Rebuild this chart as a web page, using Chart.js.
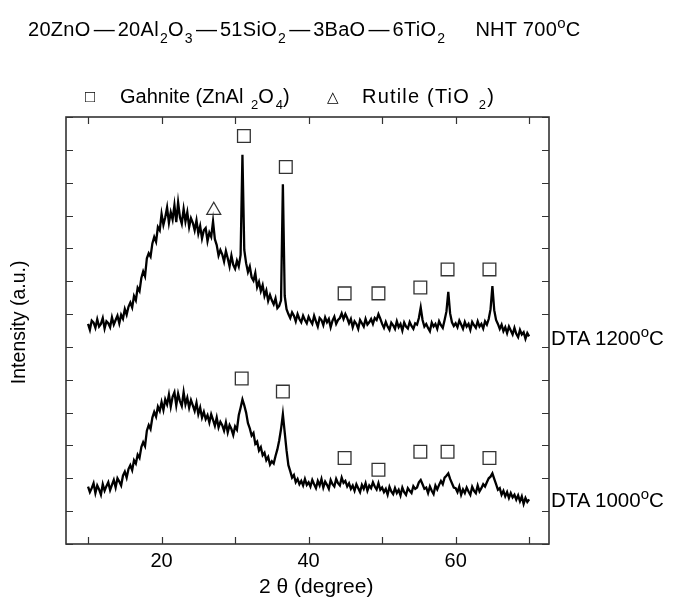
<!DOCTYPE html>
<html>
<head>
<meta charset="utf-8">
<script src="https://cdn.jsdelivr.net/npm/chart.js@4/dist/chart.umd.min.js"></script>
<style>
html,body{margin:0;padding:0;background:#fff;}
#wrap{position:relative;width:674px;height:603px;font-family:"Liberation Sans",Arial,sans-serif;color:#000;}
#c{position:absolute;left:0;top:0;}
.t{position:absolute;white-space:nowrap;line-height:1;}
.title{font-size:20px;letter-spacing:0.3px;}
.title sub{font-size:14px;vertical-align:-7px;line-height:0;margin-left:1px;}
.title sup{font-size:15px;vertical-align:8px;line-height:0;}
.d{font-size:21px;margin:0 3px 0 3px;line-height:0;letter-spacing:0;}
.leg{font-size:20px;}
.leg sub{font-size:13px;vertical-align:-6px;line-height:0;margin-left:2px;}
.lab{font-size:20.5px;}
.lab sup{font-size:15px;vertical-align:8px;line-height:0;}
</style>
</head>
<body>
<div id="wrap">
<canvas id="c" width="674" height="603"></canvas>
<div class="t title" style="left:28px;top:19px;">20ZnO<span class="d">—</span>20Al<sub>2</sub>O<sub>3</sub><span class="d">—</span>51SiO<sub>2</sub><span class="d">—</span>3BaO<span class="d">—</span>6TiO<sub>2</sub><span style="display:inline-block;width:30px"></span>NHT 700<sup>o</sup>C</div>
<div class="t" style="left:85px;top:88px;font-size:17px;">&#9633;</div>
<div class="t leg" style="left:120px;top:86px;">Gahnite (ZnAl <sub>2</sub>O<sub>4</sub>)</div>
<div class="t" style="left:327px;top:89px;font-size:15px;">&#9651;</div>
<div class="t leg" style="left:362px;top:86px;letter-spacing:1.2px;">Rutile (TiO <sub>2</sub>)</div>
<div class="t lab" style="left:551px;top:328px;">DTA 1200<sup>o</sup>C</div>
<div class="t lab" style="left:551px;top:490px;">DTA 1000<sup>o</sup>C</div>
</div>
<script>
// 2θ sampling (degrees)
const twoTheta = [
10,10.25,10.5,10.75,11,11.25,11.5,11.75,12,12.25,12.5,12.75,13,13.25,13.5,13.75,14,14.25,14.5,14.75,
15,15.25,15.5,15.75,16,16.25,16.5,16.75,17,17.25,17.5,17.75,18,18.25,18.5,18.75,19,19.25,19.5,19.75,
20,20.25,20.5,20.75,21,21.25,21.5,21.75,22,22.25,22.5,22.75,23,23.25,23.5,23.75,24,24.25,24.5,24.75,
25,25.25,25.5,25.75,26,26.25,26.5,26.75,27,27.25,27.5,27.75,28,28.25,28.5,28.75,29,29.25,29.5,29.75,
30,30.25,30.5,30.75,31,31.25,31.5,31.75,32,32.25,32.5,32.75,33,33.25,33.5,33.75,34,34.25,34.5,34.75,
35,35.25,35.5,35.75,36,36.25,36.5,36.75,37,37.25,37.5,37.75,38,38.25,38.5,38.75,39,39.25,39.5,39.75,
40,40.25,40.5,40.75,41,41.25,41.5,41.75,42,42.25,42.5,42.75,43,43.25,43.5,43.75,44,44.25,44.5,44.75,
45,45.25,45.5,45.75,46,46.25,46.5,46.75,47,47.25,47.5,47.75,48,48.25,48.5,48.75,49,49.25,49.5,49.75,
50,50.25,50.5,50.75,51,51.25,51.5,51.75,52,52.25,52.5,52.75,53,53.25,53.5,53.75,54,54.25,54.5,54.75,
55,55.25,55.5,55.75,56,56.25,56.5,56.75,57,57.25,57.5,57.75,58,58.25,58.5,58.75,59,59.25,59.5,59.75,
60,60.25,60.5,60.75,61,61.25,61.5,61.75,62,62.25,62.5,62.75,63,63.25,63.5,63.75,64,64.25,64.5,64.75,
65,65.25,65.5,65.75,66,66.25,66.5,66.75,67,67.25,67.5,67.75,68,68.25,68.5,68.75,69,69.25,69.5,69.75,
70];

// DTA 1200 °C trace (offset intensity, a.u.)
const dta1200 = [
6.70,6.52,6.80,6.74,6.58,6.84,6.62,6.70,6.88,6.56,6.78,6.72,6.60,6.90,6.68,6.82,6.95,6.72,6.98,6.86,
7.15,6.98,7.22,7.35,7.20,7.55,7.42,7.80,7.70,8.10,8.30,8.15,8.70,8.85,8.75,9.15,9.35,9.20,9.65,9.55,
10.05,9.72,9.95,10.25,9.78,10.10,9.88,10.32,9.80,10.40,9.95,9.75,10.20,9.82,10.10,9.65,9.92,9.78,9.55,9.85,
9.45,9.68,9.30,9.55,9.62,9.22,9.48,9.35,9.82,9.28,9.10,8.78,8.95,8.82,8.60,8.92,8.70,8.45,8.78,8.50,
8.38,8.62,8.45,8.80,11.85,8.95,8.55,8.28,8.45,8.12,8.02,8.25,7.82,7.98,7.70,7.88,7.55,7.72,7.40,7.58,
7.42,7.30,7.48,7.18,7.25,7.42,10.95,7.55,7.15,7.00,6.88,7.05,6.95,6.78,7.00,6.85,6.75,6.95,6.82,6.72,
6.92,6.80,6.70,6.95,6.78,6.62,6.88,6.82,6.66,6.90,6.75,6.85,6.60,6.80,6.92,6.70,6.82,6.88,7.02,6.85,
7.00,6.88,6.72,6.85,6.60,6.78,6.70,6.55,6.82,6.72,6.62,6.85,6.68,6.75,6.85,6.70,6.88,6.82,7.00,6.86,
6.70,6.58,6.76,6.62,6.52,6.74,6.66,6.55,6.78,6.60,6.70,6.50,6.74,6.62,6.56,6.76,6.64,6.55,6.72,6.68,
6.88,7.20,6.82,6.62,6.70,6.58,6.48,6.74,6.62,6.70,6.55,6.78,6.66,6.58,6.82,7.08,7.68,7.02,6.75,6.64,
6.72,6.60,6.80,6.68,6.55,6.76,6.62,6.70,6.52,6.76,6.66,6.58,6.78,6.62,6.70,6.56,6.78,6.68,6.85,7.15,
7.85,7.12,6.82,6.70,6.55,6.68,6.48,6.60,6.42,6.62,6.50,6.38,6.58,6.40,6.30,6.52,6.38,6.45,6.25,6.42,
6.32];

// DTA 1000 °C trace (offset intensity, a.u.)
const dta1000 = [
1.75,1.58,1.70,1.85,1.55,1.78,1.66,1.50,1.82,1.62,1.76,1.88,1.64,1.80,1.95,1.72,2.00,1.90,1.78,2.08,
2.20,2.02,2.28,2.40,2.25,2.55,2.45,2.72,2.62,2.95,3.10,2.98,3.45,3.62,3.50,3.85,4.02,3.88,4.18,4.05,
4.32,4.08,4.40,4.25,4.55,4.18,4.48,4.62,4.22,4.58,4.35,4.20,4.62,4.25,4.45,4.15,4.38,4.22,4.05,4.30,
3.95,4.15,3.85,4.02,3.80,3.92,3.70,3.95,3.78,3.60,3.85,3.55,3.72,3.62,3.45,3.70,3.40,3.62,3.50,3.32,
3.58,3.48,3.92,4.15,4.40,4.22,4.00,3.68,3.52,3.30,3.38,3.05,3.12,2.85,2.95,2.70,2.78,2.55,2.65,2.42,
2.52,2.45,2.68,2.88,3.15,3.50,3.95,3.40,2.85,2.40,2.22,2.02,2.10,1.88,1.98,1.82,1.92,1.78,1.98,1.80,
1.88,1.75,1.95,1.82,1.70,1.92,1.78,1.98,1.72,1.90,1.80,1.68,1.95,1.82,1.75,1.98,1.85,1.78,2.02,1.86,
1.92,1.75,1.85,1.68,1.78,1.62,1.82,1.70,1.58,1.80,1.68,1.85,1.62,1.78,1.70,1.88,1.75,1.66,1.85,1.65,
1.72,1.58,1.68,1.50,1.74,1.60,1.52,1.70,1.55,1.65,1.48,1.72,1.58,1.50,1.70,1.62,1.55,1.76,1.68,1.72,
1.88,1.95,1.82,1.68,1.72,1.55,1.75,1.62,1.52,1.78,1.66,1.80,1.92,1.82,2.02,2.08,2.15,1.98,1.85,1.72,
1.70,1.58,1.75,1.50,1.66,1.55,1.72,1.60,1.50,1.74,1.62,1.55,1.78,1.60,1.70,1.82,1.75,1.88,2.00,2.05,
2.15,1.98,1.82,1.65,1.70,1.50,1.62,1.45,1.58,1.40,1.55,1.42,1.50,1.35,1.48,1.30,1.45,1.22,1.40,1.28,
1.36];

// Phase markers
const gahniteX = [31.2,36.9,44.9,49.5,55.2,58.9,64.6, 30.9,36.5,44.9,49.5,55.2,58.9,64.6];
const gahniteY = [12.42,11.48,7.63,7.63,7.81,8.36,8.36, 5.04,4.64,2.62,2.26,2.81,2.81,2.62];
const rutileX = [27.1];
const rutileY = [10.16];

// Axis ticks
const xTicks = [10,20,30,40,50,60,70];
const xLabels = {20:'20',40:'40',60:'60'};
const yTicks = [0,1,2,3,4,5,6,7,8,9,10,11,12,13];

const toXY = (xs, ys) => xs.map((x, i) => ({x, y: ys[i]}));
const FONT = '"Liberation Sans", Arial, sans-serif';

const frameTicks = {
  id: 'frameTicks',
  afterDatasetsDraw(chart) {
    const {ctx, chartArea: {left, right, top, bottom}, scales: {x, y}} = chart;
    ctx.save();
    ctx.strokeStyle = '#333';
    ctx.lineWidth = 1.6;
    ctx.strokeRect(left, top, right - left, bottom - top);
    ctx.lineWidth = 1.2;
    const L = 7;
    ctx.beginPath();
    xTicks.forEach(v => {
      const p = Math.round(x.getPixelForValue(v)) + 0.5;
      ctx.moveTo(p, bottom); ctx.lineTo(p, bottom - L);
      ctx.moveTo(p, top); ctx.lineTo(p, top + L);
    });
    yTicks.forEach(v => {
      const p = Math.round(y.getPixelForValue(v)) + 0.5;
      ctx.moveTo(left, p); ctx.lineTo(left + L, p);
      ctx.moveTo(right, p); ctx.lineTo(right - L, p);
    });
    ctx.stroke();
    ctx.restore();
  }
};

new Chart(document.getElementById('c'), {
  type: 'line',
  data: {
    datasets: [
      {label: 'DTA 1200', data: toXY(twoTheta, dta1200), borderColor: '#000', borderWidth: 2.3, pointRadius: 0, tension: 0, order: 2},
      {label: 'DTA 1000', data: toXY(twoTheta, dta1000), borderColor: '#000', borderWidth: 2.3, pointRadius: 0, tension: 0, order: 2},
      {type: 'scatter', label: 'Gahnite (ZnAl2O4)', data: toXY(gahniteX, gahniteY), pointStyle: 'rect', pointRadius: 9, pointHoverRadius: 9,
       backgroundColor: 'rgba(255,255,255,0)', borderColor: '#333', pointBorderWidth: 1.3, borderWidth: 1.3, showLine: false, order: 1},
      {type: 'scatter', label: 'Rutile (TiO2)', data: toXY(rutileX, rutileY), pointStyle: 'triangle', pointRadius: 8, pointHoverRadius: 8,
       backgroundColor: 'rgba(255,255,255,0)', borderColor: '#333', pointBorderWidth: 1.3, borderWidth: 1.3, showLine: false, order: 1}
    ]
  },
  options: {
    responsive: false,
    animation: false,
    events: [],
    layout: {padding: {top: 117, right: 125, left: 0, bottom: 0}},
    plugins: {legend: {display: false}, tooltip: {enabled: false}, title: {display: false}},
    scales: {
      x: {
        type: 'linear', min: 7, max: 72.7,
        afterBuildTicks: s => { s.ticks = xTicks.map(v => ({value: v})); },
        afterFit: s => { s.height = 59; },
        grid: {display: false, drawTicks: false},
        border: {display: false},
        ticks: {callback: v => xLabels[v] || '', color: '#000', padding: 5, maxRotation: 0, autoSkip: false,
                font: {family: FONT, size: 20}},
        title: {display: true, text: '   2 θ (degree)', color: '#000', padding: {top: 0, bottom: 3},
                font: {family: FONT, size: 21}}
      },
      y: {
        type: 'linear', min: 0, max: 13,
        afterBuildTicks: s => { s.ticks = yTicks.map(v => ({value: v})); },
        afterFit: s => { s.width = 66; },
        grid: {display: false, drawTicks: false},
        border: {display: false},
        ticks: {display: false},
        title: {display: true, text: '   Intensity (a.u.)', color: '#000', padding: {top: 8, bottom: 0},
                font: {family: FONT, size: 19.5}}
      }
    }
  },
  plugins: [frameTicks]
});
</script>
</body>
</html>
